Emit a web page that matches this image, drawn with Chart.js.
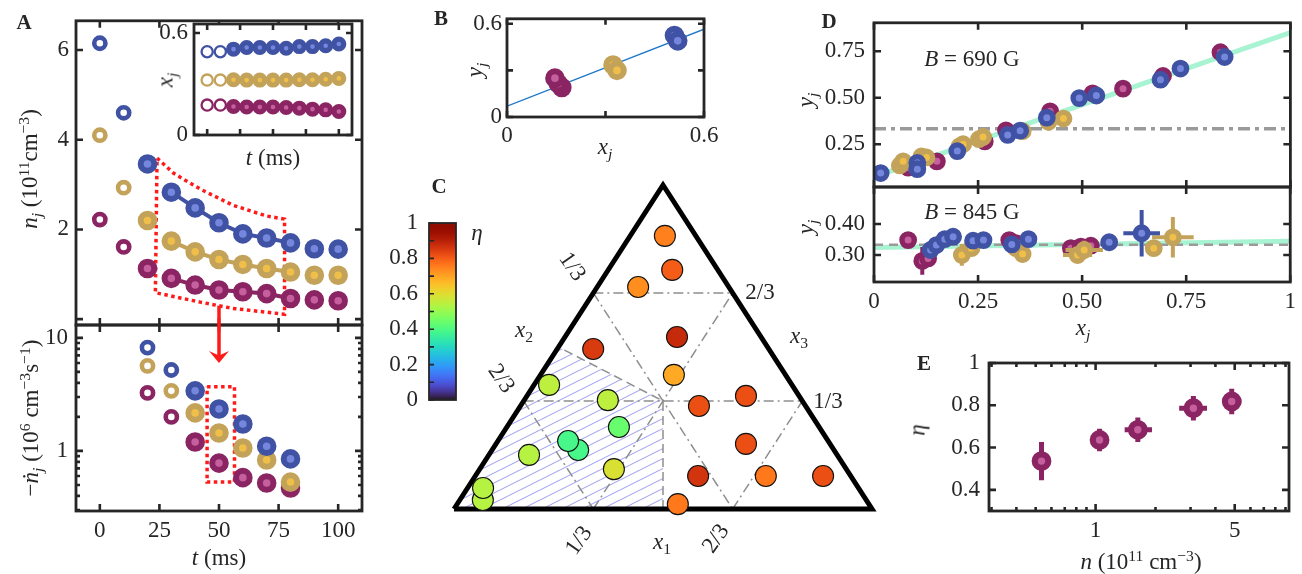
<!DOCTYPE html>
<html>
<head>
<meta charset="utf-8">
<title>Three-component loss, composition and efficiency</title>
<script src="https://cdn.jsdelivr.net/npm/chart.js@4.4.1/dist/chart.umd.min.js"></script>
<style>
  html, body { margin:0; padding:0; background:#fff; }
  #fig { position:relative; width:1302px; height:574px; overflow:hidden;
         font-family:'Liberation Serif', 'Times New Roman', serif; color:#262626; }
  #fig canvas { position:absolute; left:0; top:0; }
  .t { position:absolute; font-size:23px; line-height:1; white-space:nowrap; transform-origin:50% 50%; }
  .t sub, .t sup { font-size:68%; line-height:0; position:relative; vertical-align:baseline; }
  .t sub { top:0.32em; }
  .t sup { top:-0.5em; }
  .t.p { font-weight:bold; font-size:21px; }
</style>
</head>
<body>
<div id="fig"></div>
<script>
// ---------- Panel A: densities n_j(t) of the three components (1e11 cm^-3) ----------
const tA      = [0, 10, 20, 30, 40, 50, 60, 70, 80, 90, 100];
const nBlue   = [6.15, 4.60, 3.46, 2.83, 2.48, 2.15, 1.90, 1.81, 1.70, 1.57, 1.56];
const nGold   = [4.10, 2.93, 2.20, 1.74, 1.50, 1.33, 1.22, 1.13, 1.05, 0.98, 0.98];
const nPurple = [2.22, 1.61, 1.13, 0.91, 0.76, 0.65, 0.61, 0.57, 0.46, 0.43, 0.41];
const nOpen = 2;                 // early points shown as open rings
const fitFrom = 3, fitTo = 9;    // t = 30 ... 80 joined by the fit line
// dotted outline of the fit window
const winT = [24.0, 31.0, 42.1, 55.8, 69.9, 77.5, 77.5, 55.8, 42.1, 23.3, 24.0];
const winN = [3.59, 3.25, 2.90, 2.54, 2.30, 2.23, 0.11, 0.24, 0.38, 0.59, 3.59];

// ---------- Panel A inset: fractions x_j(t) ----------
const xBlue   = [0.490, 0.490, 0.505, 0.515, 0.515, 0.515, 0.510, 0.520, 0.520, 0.525, 0.535];
const xGold   = [0.323, 0.323, 0.325, 0.323, 0.323, 0.323, 0.323, 0.325, 0.325, 0.328, 0.333];
const xPurple = [0.176, 0.176, 0.168, 0.165, 0.165, 0.165, 0.162, 0.158, 0.152, 0.148, 0.138];

// ---------- Panel A lower: loss rates -dn_j/dt (1e6 cm^-3 s^-1) ----------
const tRate   = [20, 30, 40, 50, 60, 70, 80];
const rBlue   = [8.2, 5.2, 3.4, 2.35, 1.73, 1.10, 0.85];
const rGold   = [5.65, 3.4, 2.17, 1.44, 1.06, 0.83, 0.53];
const rPurple = [3.26, 2.0, 1.2, 0.78, 0.58, 0.52, 0.47];
const rOpen = 2;
const rateWinT = [45, 56.5, 56.5, 45, 45];
const rateWinR = [3.7, 3.7, 0.53, 0.53, 3.7];
const arrowT = 50, arrowFromN = 0.3, arrowToR = 6.0;

// ---------- Panel B: y_j versus x_j ----------
const bXPurple = [0.167, 0.156, 0.146], bYPurple = [0.190, 0.215, 0.250];
const bXGold   = [0.323, 0.335],        bYGold   = [0.335, 0.300];
const bXBlue   = [0.510, 0.520],        bYBlue   = [0.525, 0.490];
const bFitX = [0, 0.6], bFitY = [0.070, 0.565];

// ---------- Panel C: compositions (x1, x2, x3) and efficiency eta ----------
const cX1  = [0.083, 0.153, 0.098, 0.268, 0.086, 0.319, 0.036, 0.200, 0.427, 0.524, 0.268, 0.206, 0.168, 0.096, 0.598, 0.321, 0.533, 0.695, 0.832, 0.055, 0.037, 0.528];
const cX2  = [0.074, 0.109, 0.217, 0.201, 0.420, 0.267, 0.581, 0.464, 0.255, 0.127, 0.479, 0.612, 0.622, 0.737, 0.201, 0.556, 0.365, 0.203, 0.066, 0.917, 0.898, 0.457];
const cX3  = [0.843, 0.738, 0.685, 0.531, 0.494, 0.414, 0.383, 0.336, 0.318, 0.349, 0.253, 0.182, 0.210, 0.167, 0.201, 0.123, 0.102, 0.102, 0.102, 0.028, 0.065, 0.015];
const cEta = [0.75, 0.80, 0.73, 0.88, 0.85, 0.69, 0.55, 0.55, 0.82, 0.82, 0.44, 0.39, 0.39, 0.54, 0.82, 0.59, 0.86, 0.76, 0.82, 0.54, 0.54, 0.76];
const thirds = [1/3, 2/3];
const etaTicks = [0, 0.1, 0.2, 0.3, 0.4, 0.5, 0.6, 0.7, 0.8, 0.9, 1];
const etaLabelVals = [0, 0.2, 0.4, 0.6, 0.8, 1];
const etaLabels = ['0', '0.2', '0.4', '0.6', '0.8', '1'];

// ---------- Panel D: y_j versus x_j at two fields ----------
const d1XBlue   = [0.016, 0.104, 0.104, 0.200, 0.321, 0.351, 0.415, 0.493, 0.534, 0.688, 0.736, 0.842];
const d1YBlue   = [0.095, 0.150, 0.116, 0.213, 0.300, 0.323, 0.393, 0.498, 0.512, 0.597, 0.657, 0.719];
const d1XGold   = [0.062, 0.070, 0.114, 0.126, 0.206, 0.214, 0.252, 0.262, 0.357, 0.419, 0.455];
const d1YGold   = [0.136, 0.158, 0.184, 0.179, 0.240, 0.250, 0.277, 0.289, 0.320, 0.371, 0.388];
const d1XPurple = [0.082, 0.151, 0.266, 0.317, 0.423, 0.525, 0.598, 0.694, 0.832];
const d1YPurple = [0.124, 0.158, 0.265, 0.325, 0.427, 0.524, 0.549, 0.617, 0.745];
const d1FitX = [0, 1], d1FitY = [0.075, 0.850];

const d2XBlue    = [0.136, 0.150, 0.170, 0.190, 0.238, 0.263, 0.331, 0.371, 0.565, 0.643];
const d2YBlue    = [0.316, 0.332, 0.351, 0.359, 0.346, 0.348, 0.334, 0.351, 0.341, 0.370];
const d2XErrBlue = [0.020, 0, 0, 0, 0, 0, 0, 0, 0, 0.044];
const d2YErrBlue = [0, 0, 0, 0, 0, 0, 0, 0, 0, 0.075];
const d2XGold    = [0.211, 0.234, 0.341, 0.357, 0.489, 0.505, 0.672, 0.718];
const d2YGold    = [0.300, 0.322, 0.322, 0.303, 0.300, 0.316, 0.322, 0.357];
const d2XErrGold = [0, 0, 0, 0, 0.035, 0.045, 0, 0.050];
const d2YErrGold = [0.035, 0, 0, 0, 0.020, 0.030, 0, 0.065];
const d2XPurple    = [0.082, 0.116, 0.130, 0.325, 0.341, 0.473, 0.497, 0.521];
const d2YPurple    = [0.348, 0.281, 0.289, 0.348, 0.338, 0.322, 0.327, 0.330];
const d2XErrPurple = [0.015, 0, 0, 0, 0, 0, 0, 0];
const d2YErrPurple = [0, 0.045, 0, 0, 0, 0, 0, 0];
const d2FitX = [0, 1], d2FitY = [0.324, 0.344];
const equalShare = 1 / 3;

// ---------- Panel E: efficiency versus density ----------
const eN      = [0.535, 1.047, 1.63, 3.10, 4.83];
const eNLo    = [0.510, 0.990, 1.40, 2.63, 4.40];
const eNHi    = [0.560, 1.100, 1.92, 3.63, 5.40];
const eEta    = [0.536, 0.636, 0.684, 0.786, 0.818];
const eEtaErr = [0.090, 0.053, 0.058, 0.058, 0.060];

// ---------- tick values and labels ----------
const tTicks = [0, 25, 50, 75, 100], tLabels = ['0', '25', '50', '75', '100'];
const nTicks = [0, 2, 4, 6], nLabelVals = [2, 4, 6], nLabels = ['2', '4', '6'];
const rMajor = [1, 10], rLabels = ['1', '10'];
const rMinor = [0.3, 0.4, 0.5, 0.6, 0.7, 0.8, 0.9, 2, 3, 4, 5, 6, 7, 8, 9];
const insetYTicks = [0, 0.6], insetYLabels = ['0', '0.6'];
const bTicks = [0, 0.3, 0.6], bLabelVals = [0, 0.6], bLabels = ['0', '0.6'];
const dXTicks = [0, 0.25, 0.5, 0.75, 1], dXLabels = ['0', '0.25', '0.50', '0.75', '1'];
const d1YTicks = [0.25, 0.5, 0.75], d1YLabels = ['0.25', '0.50', '0.75'];
const d2YTicks = [0.3, 0.4], d2YLabels = ['0.30', '0.40'];
const eYTicks = [0.4, 0.6, 0.8, 1], eYLabels = ['0.4', '0.6', '0.8', '1'];
const eXMajor = [1, 5], eXLabels = ['1', '5'];
const eXMinor = [0.3, 0.4, 0.5, 0.6, 0.7, 0.8, 0.9, 2, 3, 4, 6, 7, 8, 9];

// ---------- styling ----------
const W = 1302, H = 574, INK = '#262626', RED = '#ff1a1a';
const BLUE   = {ring: '#3f52a3', core: '#7487dc'};
const GOLD   = {ring: '#c3a25a', core: '#efbf4a'};
const PURPLE = {ring: '#8a2462', core: '#c65f9e'};

Chart.defaults.font.family = "'Liberation Serif', 'Times New Roman', serif";
Chart.defaults.font.size = 23;
Chart.defaults.color = INK;
const fig = document.getElementById('fig');

function turbo(t) {
  t = Math.min(1, Math.max(0, t));
  const r = 0.13572138 + t * (4.61539260 + t * (-42.66032258 + t * (132.13108234 + t * (-152.94239396 + t * 59.28637943))));
  const g = 0.09140261 + t * (2.19418839 + t * (4.84296658 + t * (-14.18503333 + t * (4.27729857 + t * 2.82956604))));
  const b = 0.10667330 + t * (12.64194608 + t * (-60.58204836 + t * (110.36276771 + t * (-89.90310912 + t * 27.34824973))));
  const c = v => Math.round(255 * Math.min(1, Math.max(0, v)));
  return `rgb(${c(r)},${c(g)},${c(b)})`;
}

const pts = (xs, ys) => xs.map((x, i) => ({x, y: ys[i]}));
const sorted = a => [...a].sort((p, q) => p - q);

function dots(c, data, kind, r, bw) {
  return {data, showLine: false, pointRadius: r, pointBorderWidth: bw,
          pointBackgroundColor: kind === 'open' ? '#ffffff' : c.core, pointBorderColor: c.ring};
}
function path(data, color, width, dash, extra) {
  return Object.assign({data, showLine: true, pointRadius: 0, borderColor: color, borderWidth: width,
                        borderDash: dash || [], fill: false, tension: 0, borderCapStyle: 'butt'}, extra || {});
}
function errSegments(xs, ys, xlo, xhi, ylo, yhi) {
  const d = [];
  xs.forEach((x, i) => {
    const y = ys[i];
    if (yhi[i] > ylo[i]) d.push({x, y: ylo[i]}, {x, y: yhi[i]}, {x: null, y: null});
    if (xhi[i] > xlo[i]) d.push({x: xlo[i], y}, {x: xhi[i], y}, {x: null, y: null});
  });
  return d;
}
function symErr(xs, ys, xe, ye) {
  return errSegments(xs, ys, xs.map((x, i) => x - xe[i]), xs.map((x, i) => x + xe[i]),
                     ys.map((y, i) => y - ye[i]), ys.map((y, i) => y + ye[i]));
}

function axis(o) {
  const lv = o.labelVals || [], lt = o.labels || [];
  return {
    type: o.type || 'linear', min: o.min, max: o.max, display: o.display !== false,
    afterBuildTicks: s => { s.ticks = o.ticks.map(v => ({value: v})); },
    afterFit: s => { if (s.isHorizontal()) s.height = o.size || 0; else s.width = o.size || 0; },
    grid: {display: false, drawTicks: false}, border: {display: false},
    ticks: {display: !!o.show, autoSkip: false, maxRotation: 0, minRotation: 0, padding: o.pad ?? 8,
            callback: v => { const i = lv.indexOf(v); return i < 0 ? '' : lt[i]; }}
  };
}

// frame with inward ticks on the chosen sides
function boxPlugin(o) {
  return {
    id: 'box',
    beforeDatasetsDraw(chart) {
      if (!o.bg) return;
      const a = chart.chartArea, c = chart.ctx;
      c.save(); c.fillStyle = o.bg; c.fillRect(a.left, a.top, a.width, a.height); c.restore();
    },
    afterDatasetsDraw(chart) {
      if (o.none) return;
      const a = chart.chartArea, c = chart.ctx, xs = chart.scales.x, ys = chart.scales.y;
      const xSides = o.xSides || ['bottom', 'top'], ySides = o.ySides || ['left', 'right'];
      c.save();
      c.strokeStyle = INK; c.lineWidth = o.tw || 2.6; c.lineCap = 'butt';
      c.beginPath();
      const vx = (vals, len) => (vals || []).forEach(v => {
        const p = xs.getPixelForValue(v);
        if (xSides.includes('bottom')) { c.moveTo(p, a.bottom); c.lineTo(p, a.bottom - len); }
        if (xSides.includes('top'))    { c.moveTo(p, a.top);    c.lineTo(p, a.top + len); }
      });
      const vy = (vals, len) => (vals || []).forEach(v => {
        const p = ys.getPixelForValue(v);
        if (ySides.includes('left'))  { c.moveTo(a.left, p);  c.lineTo(a.left + len, p); }
        if (ySides.includes('right')) { c.moveTo(a.right, p); c.lineTo(a.right - len, p); }
      });
      vx(o.xMajor, o.len || 7); vx(o.xMinor, o.minor || 4);
      vy(o.yMajor, o.len || 7); vy(o.yMinor, o.minor || 4);
      c.stroke();
      c.lineWidth = o.fw || 2.8;
      c.strokeRect(a.left, a.top, a.width, a.height);
      c.restore();
    }
  };
}

function panel(fr, cfg) {
  const cv = document.createElement('canvas');
  cv.width = W; cv.height = H; fig.appendChild(cv);
  const yw = cfg.yw || 0, xh = cfg.xh || 0;
  const data = {datasets: cfg.datasets};
  if (cfg.labels) data.labels = cfg.labels;
  return new Chart(cv, {
    type: cfg.type || 'scatter',
    data,
    options: {
      responsive: false, animation: false, events: [], devicePixelRatio: 1,
      layout: {padding: {left: fr.l - yw, top: fr.t, right: W - fr.r, bottom: H - fr.b - xh}},
      scales: {x: cfg.x, y: cfg.y},
      plugins: {legend: {display: false}, tooltip: {enabled: false}}
    },
    plugins: [boxPlugin(cfg.box || {}), ...(cfg.extra || [])]
  });
}

// ---------- frames of the panels (pixels) ----------
const FR = {
  aTop:  {l: 76,  t: 13,  r: 362,  b: 325},
  aBot:  {l: 76,  t: 325, r: 362,  b: 511},
  inset: {l: 194, t: 24,  r: 352,  b: 135},
  b:     {l: 507, t: 17,  r: 704,  b: 117},
  cbar:  {l: 429, t: 223, r: 456,  b: 400},
  tern:  {l: 454, t: 185, r: 872,  b: 509},
  dTop:  {l: 874, t: 14,  r: 1292, b: 187},
  dBot:  {l: 874, t: 187, r: 1292, b: 282},
  e:     {l: 989, t: 363, r: 1293, b: 511}
};

// marker sizes: [radius, ring width]
const M_FILL = [6.8, 6], M_OPEN = [5.6, 4.6];

// ---------- A (upper) ----------
const series = [[BLUE, nBlue], [GOLD, nGold], [PURPLE, nPurple]];
const aTopSets = [];
series.forEach(([c, n]) => {
  aTopSets.push(dots(c, pts(tA.slice(nOpen), n.slice(nOpen)), 'fill', ...M_FILL));
  aTopSets.push(dots(c, pts(tA.slice(0, nOpen), n.slice(0, nOpen)), 'open', ...M_OPEN));
});
series.forEach(([c, n]) => aTopSets.push(path(pts(tA.slice(fitFrom, fitTo), n.slice(fitFrom, fitTo)), c.ring, 4)));
aTopSets.push(path(pts(winT, winN), RED, 3.5, [3.5, 3.5]));

const arrowTop = {
  id: 'arrowTop',
  afterDatasetsDraw(chart) {
    const c = chart.ctx, a = chart.chartArea;
    const x = chart.scales.x.getPixelForValue(arrowT), y0 = chart.scales.y.getPixelForValue(arrowFromN);
    c.save(); c.strokeStyle = RED; c.lineWidth = 3.5;
    c.beginPath(); c.moveTo(x, y0); c.lineTo(x, a.bottom + 2); c.stroke(); c.restore();
  }
};
panel(FR.aTop, {
  yw: 60, xh: 0, datasets: aTopSets,
  x: axis({min: -10, max: 110, ticks: tTicks}),
  y: axis({min: -0.13, max: 6.65, ticks: nTicks, labelVals: nLabelVals, labels: nLabels, show: true, size: 60, pad: 7}),
  box: {xMajor: tTicks, yMajor: nTicks},
  extra: [arrowTop]
});

// ---------- A (lower) ----------
const rates = [[BLUE, rBlue], [GOLD, rGold], [PURPLE, rPurple]];
const aBotSets = [];
rates.forEach(([c, r]) => {
  aBotSets.push(dots(c, pts(tRate.slice(rOpen), r.slice(rOpen)), 'fill', ...M_FILL));
  aBotSets.push(dots(c, pts(tRate.slice(0, rOpen), r.slice(0, rOpen)), 'open', ...M_OPEN));
});
aBotSets.push(path(pts(rateWinT, rateWinR), RED, 3.5, [3.5, 3.5]));
const arrowBot = {
  id: 'arrowBot',
  afterDatasetsDraw(chart) {
    const c = chart.ctx, a = chart.chartArea;
    const x = chart.scales.x.getPixelForValue(arrowT), tip = chart.scales.y.getPixelForValue(arrowToR);
    c.save(); c.strokeStyle = RED; c.fillStyle = RED; c.lineWidth = 3.5;
    c.beginPath(); c.moveTo(x, a.top - 2); c.lineTo(x, tip - 7); c.stroke();
    c.beginPath(); c.moveTo(x, tip); c.lineTo(x - 10, tip - 12); c.lineTo(x, tip - 7.5); c.lineTo(x + 10, tip - 12);
    c.closePath(); c.fill(); c.restore();
  }
};
panel(FR.aBot, {
  yw: 60, xh: 30, datasets: aBotSets,
  x: axis({min: -10, max: 110, ticks: tTicks, labelVals: tTicks, labels: tLabels, show: true, size: 30, pad: 6}),
  y: axis({type: 'logarithmic', min: 0.294, max: 13.0, ticks: sorted(rMajor.concat(rMinor)), labelVals: rMajor, labels: rLabels, show: true, size: 60, pad: 8}),
  box: {xMajor: tTicks, yMajor: rMajor, yMinor: rMinor},
  extra: [arrowBot]
});

// ---------- A inset ----------
const insetSets = [];
[[BLUE, xBlue], [GOLD, xGold], [PURPLE, xPurple]].forEach(([c, x]) => {
  insetSets.push(dots(c, pts(tA.slice(nOpen), x.slice(nOpen)), 'fill', 4.9, 5.2));
  insetSets.push(dots(c, pts(tA.slice(0, nOpen), x.slice(0, nOpen)), 'open', 5.6, 2.3));
});
panel(FR.inset, {
  yw: 40, xh: 0, datasets: insetSets,
  x: axis({min: -10, max: 110, ticks: tTicks}),
  y: axis({min: 0, max: 0.653, ticks: insetYTicks, labelVals: insetYTicks, labels: insetYLabels, show: true, size: 40, pad: 6}),
  box: {bg: '#ffffff', xMajor: tTicks, yMajor: insetYTicks, len: 6}
});

// ---------- B ----------
panel(FR.b, {
  yw: 40, xh: 30,
  datasets: [
    dots(BLUE, pts(bXBlue, bYBlue), 'fill', ...M_FILL),
    dots(GOLD, pts(bXGold, bYGold), 'fill', ...M_FILL),
    dots(PURPLE, pts(bXPurple, bYPurple), 'fill', ...M_FILL),
    path(pts(bFitX, bFitY), '#1f78c8', 1.3)
  ],
  x: axis({min: 0, max: 0.6, ticks: bTicks, labelVals: bLabelVals, labels: bLabels, show: true, size: 30, pad: 5}),
  y: axis({min: 0, max: 0.632, ticks: bTicks, labelVals: bLabelVals, labels: bLabels, show: true, size: 40, pad: 5}),
  box: {xMajor: bTicks, yMajor: bTicks, len: 6}
});

// ---------- C colour bar ----------
panel(FR.cbar, {
  type: 'bar', labels: [''], yw: 45, xh: 0,
  datasets: [{
    data: [[0, 1]], barPercentage: 1, categoryPercentage: 1, borderWidth: 0,
    backgroundColor: ctx => {
      const a = ctx.chart.chartArea;
      if (!a) return '#888';
      const g = ctx.chart.ctx.createLinearGradient(0, a.bottom, 0, a.top);
      for (let i = 0; i <= 40; i++) g.addColorStop(i / 40, turbo(i / 40));
      return g;
    }
  }],
  x: {type: 'category', display: false},
  y: axis({min: 0, max: 1, ticks: etaTicks, labelVals: etaLabelVals, labels: etaLabels, show: true, size: 45, pad: 11}),
  box: {yMajor: etaTicks, ySides: ['left'], len: 5, tw: 1.6, fw: 1.8}
});

// ---------- C ternary diagram ----------
const tern = (a, b, c) => ({x: a + c / 2, y: c});   // x1 -> lower right, x2 -> lower left, x3 -> top
function hatchPattern() {
  const p = document.createElement('canvas'); p.width = 20; p.height = 10;
  const g = p.getContext('2d');
  g.strokeStyle = '#a6a6ee'; g.lineWidth = 1.1;
  [-10, 0, 10].forEach(dy => { g.beginPath(); g.moveTo(-2, 11 + dy); g.lineTo(22, -1 + dy); g.stroke(); });
  return g.createPattern(p, 'repeat');
}
const [q1, q2] = thirds;
const gridSegs = [
  [[0, q2, q1], [q2, 0, q1]], [[0, q1, q2], [q1, 0, q2]],     // x3 = const
  [[0, q1, q2], [q2, q1, 0]], [[0, q2, q1], [q1, q2, 0]],     // x2 = const
  [[q1, q2, 0], [q1, 0, q2]], [[q2, q1, 0], [q2, 0, q1]]      // x1 = const
];
const ternSets = [];
ternSets.push({
  data: cX1.map((v, i) => tern(v, cX2[i], cX3[i])), showLine: false, clip: false,
  pointRadius: 10.5, pointBorderWidth: 1.1, pointBorderColor: '#111111',
  pointBackgroundColor: cEta.map(turbo)
});
ternSets.push(path([tern(0, 1, 0), tern(1, 0, 0), tern(0, 0, 1), tern(0, 1, 0)], '#000000', 5, [],
                   {clip: false, borderJoinStyle: 'miter'}));
gridSegs.forEach(s => ternSets.push(path(s.map(p => tern(...p)), '#8e8e8e', 1.5, [10, 4, 2, 4], {clip: false})));
ternSets.push(path([tern(0.5, 0.5, 0), tern(q1, q1, q1), tern(0, 0.5, 0.5)], '#8e8e8e', 1.5, [9, 5], {clip: false}));
ternSets.push(path([tern(0, 1, 0), tern(0.5, 0.5, 0), tern(q1, q1, q1), tern(0, 0.5, 0.5), tern(0, 1, 0)],
                   'rgba(0,0,0,0)', 0, [], {fill: 'shape', backgroundColor: hatchPattern(), clip: false}));
panel(FR.tern, {
  datasets: ternSets,
  x: {type: 'linear', min: 0, max: 1, display: false},
  y: {type: 'linear', min: 0, max: 1, display: false},
  box: {none: true}
});

// ---------- D (690 G) ----------
const M_D = [6.2, 5.4];
panel(FR.dTop, {
  yw: 70, xh: 0,
  datasets: [
    dots(BLUE, pts(d1XBlue, d1YBlue), 'fill', ...M_D),
    dots(GOLD, pts(d1XGold, d1YGold), 'fill', ...M_D),
    dots(PURPLE, pts(d1XPurple, d1YPurple), 'fill', ...M_D),
    path([{x: 0, y: equalShare}, {x: 1, y: equalShare}], '#9a9a9a', 3.5, [12, 5, 4, 5]),
    path(pts(d1FitX, d1FitY), '#a8f3d1', 5)
  ],
  x: axis({min: 0, max: 1, ticks: dXTicks}),
  y: axis({min: 0.02, max: 0.903, ticks: d1YTicks, labelVals: d1YTicks, labels: d1YLabels, show: true, size: 70, pad: 9}),
  box: {xMajor: dXTicks, yMajor: d1YTicks}
});

// ---------- D (845 G) ----------
panel(FR.dBot, {
  yw: 70, xh: 30,
  datasets: [
    dots(BLUE, pts(d2XBlue, d2YBlue), 'fill', ...M_D),
    path(symErr(d2XBlue, d2YBlue, d2XErrBlue, d2YErrBlue), BLUE.ring, 4),
    dots(GOLD, pts(d2XGold, d2YGold), 'fill', ...M_D),
    path(symErr(d2XGold, d2YGold, d2XErrGold, d2YErrGold), GOLD.ring, 4),
    dots(PURPLE, pts(d2XPurple, d2YPurple), 'fill', ...M_D),
    path(symErr(d2XPurple, d2YPurple, d2XErrPurple, d2YErrPurple), PURPLE.ring, 4),
    path([{x: 0, y: equalShare}, {x: 1, y: equalShare}], '#9a9a9a', 2.5, [9, 6]),
    path(pts(d2FitX, d2FitY), '#a8f3d1', 5)
  ],
  x: axis({min: 0, max: 1, ticks: dXTicks, labelVals: dXTicks, labels: dXLabels, show: true, size: 30, pad: 6}),
  y: axis({min: 0.213, max: 0.519, ticks: d2YTicks, labelVals: d2YTicks, labels: d2YLabels, show: true, size: 70, pad: 9}),
  box: {xMajor: dXTicks, yMajor: d2YTicks}
});

// ---------- E ----------
panel(FR.e, {
  yw: 60, xh: 30,
  datasets: [
    dots(PURPLE, pts(eN, eEta), 'fill', 6.8, 6.2),
    path(errSegments(eN, eEta, eNLo, eNHi, eEta.map((v, i) => v - eEtaErr[i]), eEta.map((v, i) => v + eEtaErr[i])), PURPLE.ring, 5)
  ],
  x: axis({type: 'logarithmic', min: 0.2914, max: 9.37, ticks: sorted(eXMajor.concat(eXMinor)), labelVals: eXMajor, labels: eXLabels, show: true, size: 30, pad: 6}),
  y: axis({min: 0.3, max: 1.0, ticks: eYTicks, labelVals: eYTicks, labels: eYLabels, show: true, size: 60, pad: 9}),
  box: {xMajor: eXMajor, xMinor: eXMinor, yMajor: eYTicks}
});

// ---------- text: panel letters, axis titles, annotations ----------
const texts = [
  ['A', 24, 22, 0, 'p'],
  ['<i>n</i><sub><i>j</i></sub> (10<sup>11</sup>cm<sup>−3</sup>)', 29, 169, -90],
  ['−<i>ṅ</i><sub><i>j</i></sub> (10<sup>6</sup> cm<sup>−3</sup>s<sup>−1</sup>)', 30, 418, -90],
  ['<i>t</i> (ms)', 219, 557, 0],
  ['<i>t</i> (ms)', 273, 157, 0],
  ['<i>x</i><sub><i>j</i></sub>', 165, 80, -90],
  ['B', 441, 18, 0, 'p'],
  ['<i>y</i><sub><i>j</i></sub>', 474, 70, -90],
  ['<i>x</i><sub><i>j</i></sub>', 605, 146, 0],
  ['C', 439, 186, 0, 'p'],
  ['<i>η</i>', 477, 232, 0],
  ['1/3', 573, 266, 55], ['2/3', 502, 378, 55],
  ['2/3', 760, 291, 0], ['1/3', 828, 400, 0],
  ['1/3', 578, 540, -55], ['2/3', 715, 538, -55],
  ['<i>x</i><sub>1</sub>', 662, 541, 0],
  ['<i>x</i><sub>2</sub>', 524, 329, 0],
  ['<i>x</i><sub>3</sub>', 799, 335, 0],
  ['D', 829, 21, 0, 'p'],
  ['<i>y</i><sub><i>j</i></sub>', 805, 100, -90],
  ['<i>y</i><sub><i>j</i></sub>', 805, 227, -90],
  ['<i>B</i> = 690 G', 972, 58, 0],
  ['<i>B</i> = 845 G', 972, 211, 0],
  ['<i>x</i><sub><i>j</i></sub>', 1083, 327, 0],
  ['E', 924, 363, 0, 'p'],
  ['<i>η</i>', 917, 430, -90],
  ['<i>n</i> (10<sup>11</sup> cm<sup>−3</sup>)', 1141, 561, 0]
];
texts.forEach(([html, x, y, rot, cls]) => {
  const d = document.createElement('div');
  d.className = 't' + (cls ? ' ' + cls : '');
  d.innerHTML = html;
  d.style.left = x + 'px'; d.style.top = y + 'px';
  d.style.transform = `translate(-50%, -50%) rotate(${rot}deg)`;
  fig.appendChild(d);
});
</script>
</body>
</html>
